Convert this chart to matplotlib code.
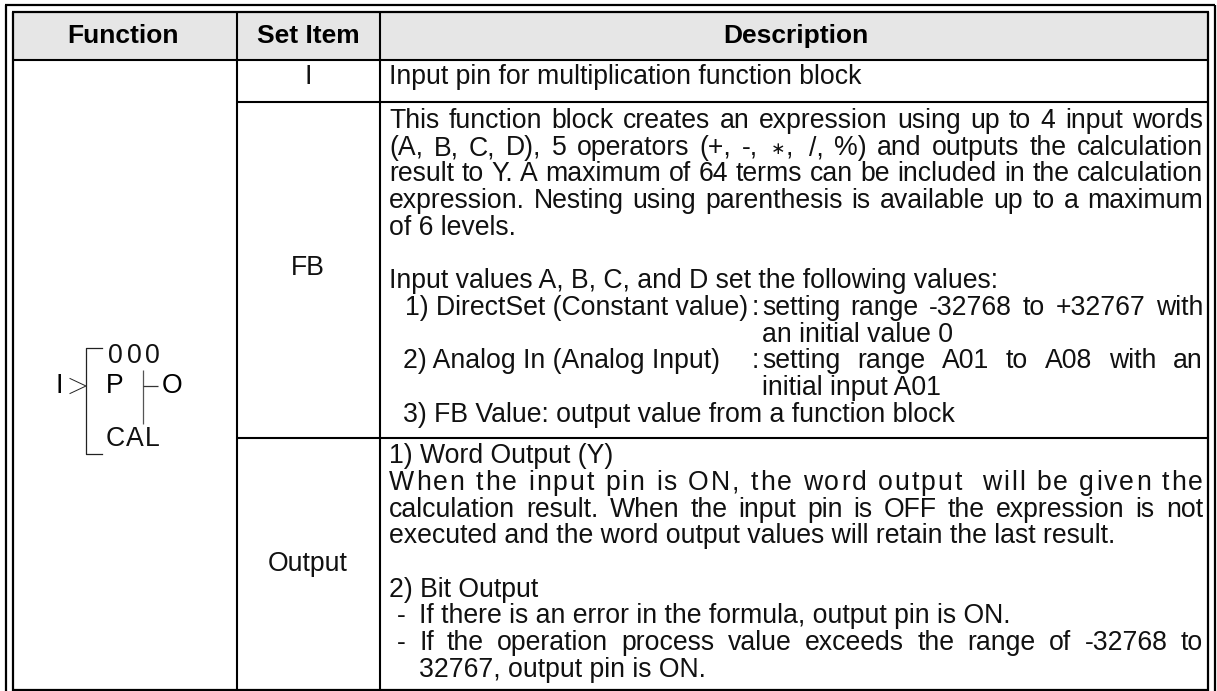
"""Function block table: calculation block, drawn as real text and lines."""
import matplotlib as mpl
mpl.use('Agg')
import matplotlib.pyplot as plt
from matplotlib.patches import Rectangle

plt.rcParams['font.family'] = ['Liberation Sans', 'DejaVu Sans']

header_labels = ['Function', 'Set Item', 'Description']
set_items = ['I', 'FB', 'Output']

# (text, left x, baseline y, how to fill the line up to the right edge)
description_lines = [
    ('Input pin for multiplication function block', 389, 84, None),
    ('This function block creates an expression using up to 4 input words', 389, 128, 'words'),
    ('(A, B, C, D), 5 operators (+, -, \u2217, /, %) and outputs the calculation', 389, 155, 'words'),
    ('result to Y. A maximum of 64 terms can be included in the calculation', 389, 181, 'words'),
    ('expression. Nesting using parenthesis is available up to a maximum', 389, 208, 'words'),
    ('of 6 levels.', 389, 235, None),
    ('Input values A, B, C, and D set the following values:', 389, 288, None),
    ('1) DirectSet (Constant value)', 405, 315, None),
    (':', 752, 315, None),
    ('setting range -32768 to +32767 with', 762, 315, 'words'),
    ('an initial value 0', 762, 342, None),
    ('2) Analog In (Analog Input)', 403, 368, None),
    (':', 752, 368, None),
    ('setting range A01 to A08 with an', 762, 368, 'words'),
    ('initial input A01', 762, 395, None),
    ('3) FB Value: output value from a function block', 403, 422, None),
    ('1) Word Output (Y)', 389, 463, None),
    ('When the input pin is ON, the word output  will be given the', 389, 490, 'chars'),
    ('calculation result. When the input pin is OFF the expression is not', 389, 517, 'words'),
    ('executed and the word output values will retain the last result.', 389, 543, None),
    ('2) Bit Output', 389, 597, None),
    ('-', 397, 623, None),
    ('If there is an error in the formula, output pin is ON.', 419, 623, None),
    ('-', 397, 650, None),
    ('If the operation process value exceeds the range of -32768 to', 419, 650, 'words'),
    ('32767, output pin is ON.', 419, 677, None),
]

W, H = 1217, 691
FS = 19.2
RIGHT = 1203

fig = plt.figure(figsize=(W / 100, H / 100), dpi=100)
ax = fig.add_axes([0, 0, 1, 1])
ax.set_xlim(0, W)
ax.set_ylim(H, 0)
ax.axis('off')
renderer = fig.canvas.get_renderer()


def text_width(s, fontsize=FS):
    t = ax.text(0, 0, s, fontsize=fontsize)
    width = t.get_window_extent(renderer).width
    t.remove()
    return width


def spread(parts, x0, x1, y):
    '''put the parts between x0 and x1 with even gaps'''
    widths = [text_width(p) for p in parts]
    gap = (x1 - x0 - sum(widths)) / (len(parts) - 1)
    x = x0
    for part, width in zip(parts, widths):
        if part.startswith('\u2217'):
            # the star is a small one in the reference
            ax.text(x + 2, y - 1.5, '\u2217', fontsize=12.5, ha='left', va='baseline', color='#111111')
            ax.text(x + text_width('\u2217', 12.5) + 3, y, part[1:], fontsize=FS, ha='left', va='baseline', color='#111111')
        else:
            ax.text(x, y, part, fontsize=FS, ha='left', va='baseline', color='#111111')
        x += width + gap


def hline(x0, x1, y, lw=1.5, color='black'):
    ax.plot([x0, x1], [y, y], color=color, lw=lw, solid_capstyle='butt')


def vline(x, y0, y1, lw=1.5, color='black'):
    ax.plot([x, x], [y0, y1], color=color, lw=lw, solid_capstyle='butt')


# header band
ax.add_patch(Rectangle((13, 12), 1195, 48, facecolor='#e6e6e6', edgecolor='none'))

# double outer frame, open at the bottom
vline(6, 5, H, lw=1.6)
vline(1214.5, 5, H, lw=1.6)
hline(5, 1215, 5, lw=1.6)
vline(13, 12, H, lw=1.6)
vline(1208, 12, H, lw=1.6)
hline(12, 1209, 12, lw=1.6)
hline(13, 1208, 690, lw=1.6)

# grid
hline(13, 1208, 60)
vline(237, 12, 690)
vline(380, 12, 690)
hline(237, 1208, 101.5)
hline(237, 1208, 437.5)

# header and set item texts
for label, x in zip(header_labels, [123, 308, 796]):
    ax.text(x, 43, label, fontsize=19, fontweight='bold', ha='center', va='baseline')
for label, y in zip(set_items, [84, 275, 571]):
    ax.text(308, y, label, fontsize=FS, ha='center', va='baseline', color='#111111')

# description
for line, x, y, mode in description_lines:
    if mode == 'words':
        spread(line.split(), x, RIGHT, y)
    elif mode == 'chars':
        spread(list(line), x, RIGHT, y)
    else:
        ax.text(x, y, line, fontsize=FS, ha='left', va='baseline', color='#111111')

# block symbol
ax.plot([102, 86, 86, 102], [348, 348, 454, 454], color='#222222', lw=0.9)
ax.plot([70, 86, 70], [378.5, 386, 393.5], color='#222222', lw=0.7)
vline(143, 370, 424, lw=0.9, color='#555555')
hline(143, 158, 386, lw=0.9, color='#333333')
ax.text(55, 393, 'I', fontsize=FS, ha='left', va='baseline')
ax.text(106, 393, 'P', fontsize=FS, ha='left', va='baseline')
ax.text(162, 393, 'O', fontsize=FS, ha='left', va='baseline')
spread(['0', '0', '0'], 108, 160, 363)
spread(['C', 'A', 'L'], 106, 160, 446)

fig.savefig('out.png', dpi=100)
